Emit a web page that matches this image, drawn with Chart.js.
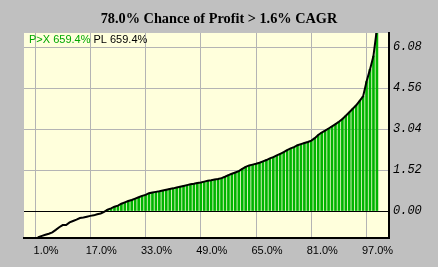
<!DOCTYPE html>
<html>
<head>
<meta charset="utf-8">
<script src="https://cdn.jsdelivr.net/npm/chart.js@4"></script>
<style>
  html, body { margin: 0; padding: 0; background: #c0c0c0; }
  canvas { display: block; }
</style>
</head>
<body>
<canvas id="myChart" width="438" height="267"></canvas>
<script>
'use strict';

// percentile of each run (x) and the CAGR value (y)
const percentiles = [];
for (let i = 1; i <= 100; i++) percentiles.push(i);

const values = [
  -1.10, -0.97, -0.92, -0.88, -0.84, -0.79, -0.70, -0.60, -0.52, -0.52,
  -0.42, -0.37, -0.32, -0.26, -0.24, -0.21, -0.18, -0.16, -0.12, -0.09,
  -0.03, 0.05, 0.10, 0.16, 0.20, 0.27, 0.32, 0.37, 0.41, 0.46,
  0.51, 0.56, 0.60, 0.66, 0.69, 0.71, 0.73, 0.76, 0.79, 0.82,
  0.84, 0.87, 0.90, 0.93, 0.96, 0.99, 1.01, 1.04, 1.06, 1.09,
  1.12, 1.14, 1.17, 1.19, 1.22, 1.27, 1.33, 1.38, 1.43, 1.48,
  1.56, 1.64, 1.69, 1.72, 1.75, 1.79, 1.84, 1.89, 1.95, 2.00,
  2.06, 2.12, 2.18, 2.26, 2.32, 2.37, 2.44, 2.48, 2.52, 2.56,
  2.61, 2.70, 2.82, 2.91, 2.98, 3.06, 3.14, 3.22, 3.31, 3.41,
  3.53, 3.66, 3.79, 3.92, 4.08, 4.25, 4.80, 5.25, 5.75, 6.75
];

const xTicks = [1, 17, 33, 49, 65, 81, 97];
const yTicks = [0, 1.52, 3.04, 4.56, 6.08];

const titleText = '78.0% Chance of Profit > 1.6% CAGR';
const legendItems = [
  { text: 'P>X 659.4%', color: '#00a800' },
  { text: 'PL 659.4%', color: '#000000' }
];

const linePoints = percentiles.map((p, i) => ({ x: p, y: values[i] }));
const barPoints = percentiles.map((p, i) => ({ x: p, y: values[i] > 0 ? values[i] : null }));

// yellow plot area on grey page
const background = {
  id: 'background',
  beforeDraw(chart) {
    const { ctx, chartArea: a } = chart;
    ctx.save();
    ctx.fillStyle = '#c0c0c0';
    ctx.fillRect(0, 0, chart.width, chart.height);
    ctx.fillStyle = '#ffffdc';
    ctx.fillRect(a.left, a.top, a.right - a.left, a.bottom - a.top);
    ctx.restore();
  }
};

// the little text legend in the top left corner of the plot
const cornerLegend = {
  id: 'cornerLegend',
  afterDraw(chart) {
    const { ctx, chartArea: a } = chart;
    ctx.save();
    ctx.font = '11px "Liberation Sans", Arial, sans-serif';
    ctx.textBaseline = 'middle';
    let x = a.left + 5;
    legendItems.forEach(item => {
      ctx.fillStyle = item.color;
      ctx.fillText(item.text, x, a.top + 7);
      x += ctx.measureText(item.text).width + 3;
    });
    ctx.restore();
  }
};

new Chart(document.getElementById('myChart'), {
  type: 'bar',
  data: {
    datasets: [
      {
        type: 'line',
        data: linePoints,
        borderColor: '#000000',
        borderWidth: 2,
        pointRadius: 0,
        tension: 0,
        order: 0
      },
      {
        type: 'bar',
        data: barPoints,
        backgroundColor: '#00b400',
        barThickness: 2,
        order: 1
      }
    ]
  },
  options: {
    responsive: false,
    animation: false,
    devicePixelRatio: 1,
    plugins: {
      legend: { display: false },
      tooltip: { enabled: false },
      title: {
        display: true,
        text: titleText,
        color: '#000000',
        font: { family: '"Liberation Serif", "Times New Roman", serif', size: 14.3, weight: 'bold', lineHeight: 1.25 },
        padding: { top: 10, bottom: 5.1 }
      }
    },
    scales: {
      x: {
        type: 'linear',
        offset: false,
        min: -2.2,
        max: 103.5,
        afterBuildTicks: s => { s.ticks = xTicks.map(v => ({ value: v })); },
        afterFit: s => { s.height = 29; },
        grid: { color: '#b4b4b4', lineWidth: 1, drawTicks: false, offset: false },
        border: { color: '#000000', width: 2 },
        ticks: {
          color: '#000000',
          font: { family: '"Liberation Sans", Arial, sans-serif', size: 11 },
          padding: 6,
          labelOffset: 11,
          maxRotation: 0,
          callback: v => v.toFixed(1) + '%'
        }
      },
      y: {
        position: 'right',
        min: -1.0,
        max: 6.6,
        afterBuildTicks: s => { s.ticks = yTicks.map(v => ({ value: v })); },
        afterFit: s => { s.width = 49; },
        grid: {
          color: ctx => ctx.tick && ctx.tick.value === 0 ? '#000000' : '#b4b4b4',
          lineWidth: 1,
          drawTicks: false
        },
        border: { color: '#000000', width: 2 },
        ticks: {
          color: '#000000',
          font: { family: '"Liberation Mono", "Courier New", monospace', size: 12, style: 'italic' },
          padding: 4,
          callback: v => v.toFixed(2)
        }
      },
      // empty left margin so the title stays centred on the whole picture
      spacer: {
        type: 'linear',
        axis: 'y',
        position: 'left',
        afterFit: s => { s.width = 24; },
        grid: { display: false, drawTicks: false },
        border: { display: false },
        ticks: { display: false }
      }
    }
  },
  plugins: [background, cornerLegend]
});
</script>
</body>
</html>
